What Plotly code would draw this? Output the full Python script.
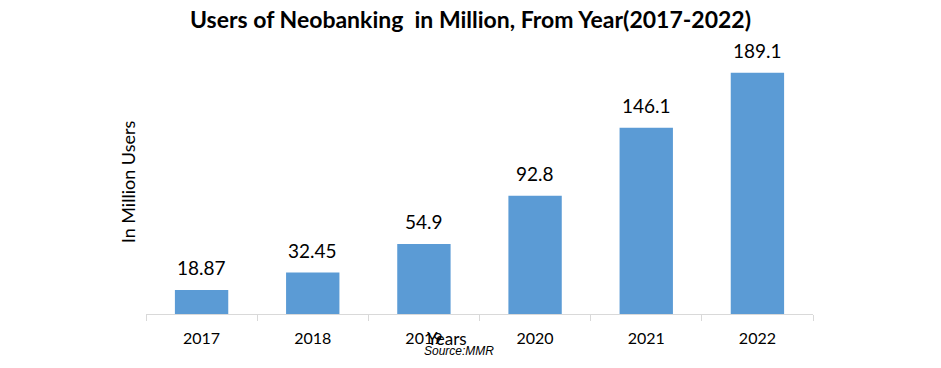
import plotly.graph_objects as go

years = ["2017", "2018", "2019", "2020", "2021", "2022"]
users = [18.87, 32.45, 54.9, 92.8, 146.1, 189.1]
labels = ["18.87", "32.45", "54.9", "92.8", "146.1", "189.1"]

fig = go.Figure()
fig.add_trace(go.Bar(x=years, y=users, marker=dict(color="#5b9bd5", line=dict(width=0)),
                     hoverinfo="x+y"))

for i, (v, lab) in enumerate(zip(users, labels)):
    fig.add_annotation(x=i, y=v, text=lab, showarrow=False, yanchor="bottom", yshift=9,
                       font=dict(family="Lato, Open Sans, sans-serif", size=19, color="#000"))

fig.add_annotation(xref="paper", yref="paper", x=0.452, y=-0.091, text="Years", showarrow=False,
                   yanchor="middle",
                   font=dict(family="Lato, sans-serif", size=17, color="#000"))
fig.add_annotation(xref="paper", yref="paper", x=0.469, y=-0.14, text="<i>Source:MMR</i>", showarrow=False,
                   yanchor="middle",
                   font=dict(family="Liberation Sans, Arial, sans-serif", size=12, color="#000"))

fig.update_layout(
    width=941, height=368,
    margin=dict(l=146, r=128, t=50, b=54),
    paper_bgcolor="white", plot_bgcolor="white",
    title=dict(text="<b>Users of Neobanking  in Million, From Year(2017-2022)</b>", x=0.5, xanchor="center",
               y=0.945, yanchor="middle",
               font=dict(family="Lato, Open Sans, sans-serif", size=23, color="#000")),
    bargap=0.52,
    showlegend=False,
)
fig.update_xaxes(type="category", range=[-0.5, 5.5], showline=True, linecolor="#d9d9d9", linewidth=1,
                 ticks="outside", tickson="boundaries", ticklen=6, tickcolor="#d9d9d9",
                 ticklabelstandoff=10,
                 tickfont=dict(family="Lato, Open Sans, sans-serif", size=16, color="#000"),
                 showgrid=False)
fig.update_yaxes(range=[0, 207], showticklabels=False, showgrid=False, zeroline=False, showline=False,
                 title=dict(text="In Million Users", standoff=4,
                            font=dict(family="Lato, Open Sans, sans-serif", size=18, color="#000")))

fig.write_html("out.html", config={"displayModeBar": False},
               post_script="document.body.style.margin='0';document.body.style.overflow='hidden';")
